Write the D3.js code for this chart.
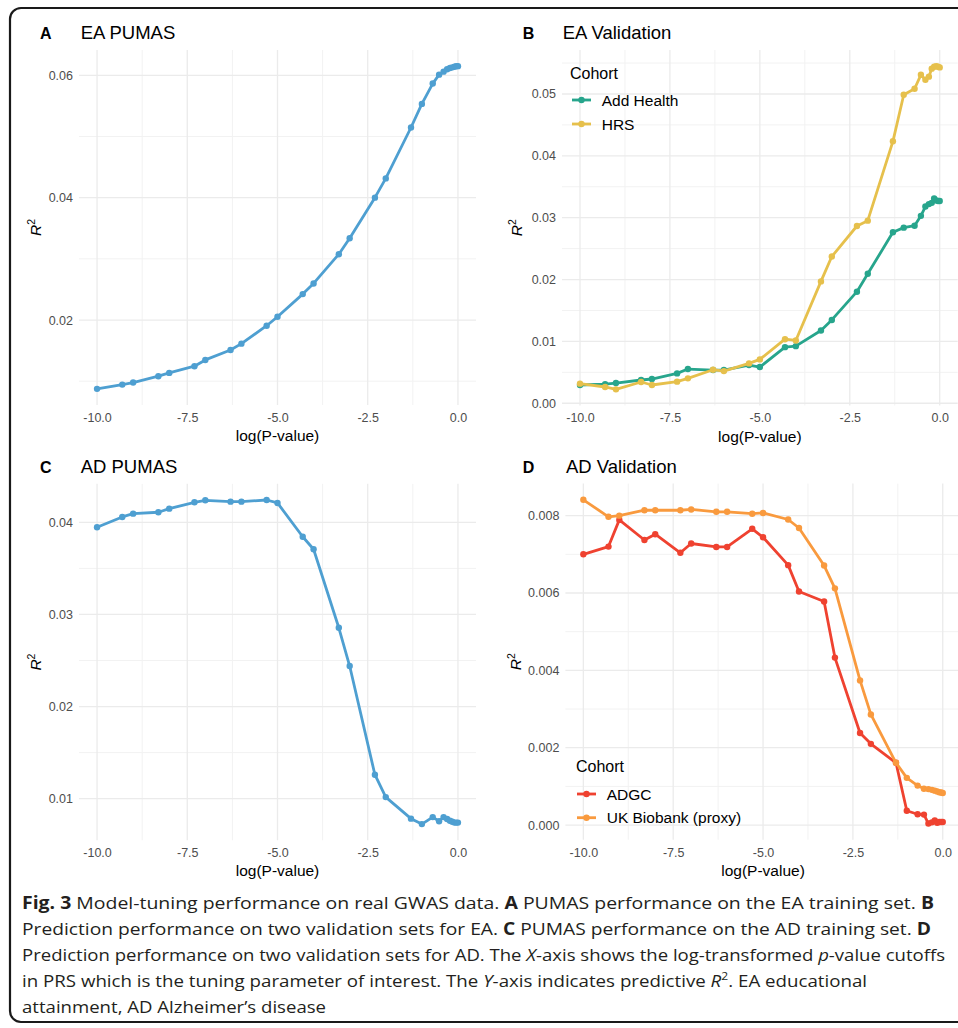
<!DOCTYPE html>
<html>
<head>
<meta charset="utf-8">
<script src="https://cdn.jsdelivr.net/npm/d3@7"></script>
<style>
  body { margin: 0; background: #fff; }
  svg { display: block; }
</style>
</head>
<body>
<svg id="fig" width="958" height="1028"></svg>
<script>
// P-value cutoffs used as the PRS tuning grid (plotted on log10 scale)
const pCutoffs = [1e-10, 5e-10, 1e-9, 5e-9, 1e-8, 5e-8, 1e-7, 5e-7, 1e-6, 5e-6,
                  1e-5, 5e-5, 1e-4, 5e-4, 1e-3, 5e-3, 1e-2, 5e-2, 0.1, 0.2,
                  0.3, 0.4, 0.5, 0.6, 0.7, 0.8, 0.9, 1];

// Predictive R^2 at each cutoff
const eaPumas = [0.00875, 0.00945, 0.00978, 0.01082, 0.01136, 0.01245, 0.01348, 0.01511, 0.01614, 0.01907,
                 0.02054, 0.02424, 0.02598, 0.03076, 0.03337, 0.0400, 0.04315, 0.05147, 0.05533, 0.05865,
                 0.06011, 0.0606, 0.0610, 0.0612, 0.0613, 0.0614, 0.0615, 0.0615];
const eaAddHealth = [0.00295, 0.0031, 0.00327, 0.00376, 0.00392, 0.00483, 0.00553, 0.00537, 0.00537, 0.00617,
                     0.00585, 0.00907, 0.00923, 0.01176, 0.01347, 0.01804, 0.02093, 0.02764, 0.02839, 0.02871,
                     0.0303, 0.0318, 0.0322, 0.0324, 0.0331, 0.0328, 0.0327, 0.0327];
const eaHRS = [0.00317, 0.00263, 0.00225, 0.00344, 0.00295, 0.00349, 0.00403, 0.00542, 0.0052, 0.00644,
               0.00709, 0.01036, 0.01015, 0.0197, 0.02372, 0.02866, 0.02952, 0.04235, 0.04987, 0.05084,
               0.0531, 0.0523, 0.0528, 0.0541, 0.0544, 0.0545, 0.0544, 0.0543];
const adPumas = [0.03946, 0.04058, 0.04094, 0.04109, 0.04148, 0.04217, 0.04239, 0.04224, 0.04224, 0.04242,
                 0.0421, 0.03843, 0.03707, 0.02855, 0.0244, 0.0126, 0.01017, 0.00783, 0.00724, 0.0080,
                 0.00755, 0.0080, 0.0078, 0.0076, 0.0075, 0.0074, 0.0074, 0.0074];
const adADGC = [0.0070, 0.0072, 0.00789, 0.00737, 0.00752, 0.00704, 0.00728, 0.00719, 0.00719, 0.00766,
                0.00744, 0.00672, 0.00604, 0.00578, 0.00433, 0.00238, 0.0021, 0.00161, 0.00037, 0.00028,
                0.00027, 0.00004, 0.00007, 0.00012, 0.00006, 0.00008, 0.00008, 0.00008];
const adUKB = [0.00841, 0.00797, 0.0080, 0.00814, 0.00814, 0.00814, 0.00816, 0.0081, 0.0081, 0.00805,
               0.00807, 0.0079, 0.00768, 0.00671, 0.00612, 0.00374, 0.00286, 0.00161, 0.00122, 0.00102,
               0.00094, 0.00093, 0.00091, 0.00089, 0.00087, 0.00085, 0.00084, 0.00083];

// Axis ticks
const xTicks = [-10, -7.5, -5, -2.5, 0];
const xMinorTicks = [-8.75, -6.25, -3.75, -1.25];
const yTicksEaPumas = [0.02, 0.04, 0.06];
const yMinorEaPumas = [0.01, 0.03, 0.05];
const yTicksEaVal = [0, 0.01, 0.02, 0.03, 0.04, 0.05];
const yMinorEaVal = [0.005, 0.015, 0.025, 0.035, 0.045, 0.055];
const yTicksAdPumas = [0.01, 0.02, 0.03, 0.04];
const yMinorAdPumas = [0.005, 0.015, 0.025, 0.035];
const yTicksAdVal = [0, 0.002, 0.004, 0.006, 0.008];
const yMinorAdVal = [0.001, 0.003, 0.005, 0.007];

const FONT = "'Liberation Sans', Arial, Helvetica, sans-serif";
const svg = d3.select("#fig");
const logP = pCutoffs.map(p => Math.log10(p));

// Figure frame
svg.append("rect")
  .attr("x", 10).attr("y", 8).attr("width", 1100).attr("height", 1014)
  .attr("rx", 11).attr("ry", 11)
  .attr("fill", "none").attr("stroke", "#1a1a1a").attr("stroke-width", 2.2);

const panels = [
  { tag: "A", title: "EA PUMAS", tagX: 40, titleX: 80.7, titleY: 39.3,
    box: { x0: 79, x1: 476, y0: 50, y1: 405 },
    series: [{ name: "EA PUMAS", values: eaPumas, color: "#4e9fd1" }],
    yTicks: yTicksEaPumas, yMinor: yMinorEaPumas, yFmt: d3.format(".2f"), yTitleX: 36, legend: null },
  { tag: "B", title: "EA Validation", tagX: 522.7, titleX: 562.7, titleY: 39.3,
    box: { x0: 562, x1: 957.7, y0: 50, y1: 405.5 },
    series: [{ name: "Add Health", values: eaAddHealth, color: "#27a58c" },
             { name: "HRS", values: eaHRS, color: "#e6c04c" }],
    yTicks: yTicksEaVal, yMinor: yMinorEaVal, yFmt: d3.format(".2f"), yTitleX: 517,
    legend: { titleX: 570, titleY: 73, keyX0: 572, keyX1: 591, labelX: 601.7, rows: [100, 124] } },
  { tag: "C", title: "AD PUMAS", tagX: 40, titleX: 80.7, titleY: 473.3,
    box: { x0: 79, x1: 476, y0: 483.8, y1: 840.3 },
    series: [{ name: "AD PUMAS", values: adPumas, color: "#4e9fd1" }],
    yTicks: yTicksAdPumas, yMinor: yMinorAdPumas, yFmt: d3.format(".2f"), yTitleX: 36, legend: null },
  { tag: "D", title: "AD Validation", tagX: 522.7, titleX: 566, titleY: 473.3,
    box: { x0: 565.4, x1: 960.7, y0: 483.6, y1: 839.7 },
    series: [{ name: "ADGC", values: adADGC, color: "#ef4230" },
             { name: "UK Biobank (proxy)", values: adUKB, color: "#f99a3e" }],
    yTicks: yTicksAdVal, yMinor: yMinorAdVal, yFmt: d3.format(".3f"), yTitleX: 516,
    legend: { titleX: 576, titleY: 766.7, keyX0: 577, keyX1: 596, labelX: 606.7, rows: [794, 817.7] } }
];

panels.forEach(p => {
  const g = svg.append("g");
  const b = p.box;

  const x = d3.scaleLinear().domain([-10.5, 0.5]).range([b.x0, b.x1]);
  const all = p.series.flatMap(s => s.values);
  const [lo, hi] = d3.extent(all);
  const pad = (hi - lo) * 0.05;
  const y = d3.scaleLinear().domain([lo - pad, hi + pad]).range([b.y1, b.y0]);

  // grid: minor then major
  const grid = g.append("g");
  grid.selectAll(".xminor").data(xMinorTicks).join("line")
    .attr("x1", d => x(d)).attr("x2", d => x(d)).attr("y1", b.y0).attr("y2", b.y1)
    .attr("stroke", "#f2f2f2").attr("stroke-width", 1);
  grid.selectAll(".yminor").data(p.yMinor.filter(v => y(v) >= b.y0 && y(v) <= b.y1)).join("line")
    .attr("x1", b.x0).attr("x2", b.x1).attr("y1", d => y(d)).attr("y2", d => y(d))
    .attr("stroke", "#f2f2f2").attr("stroke-width", 1);
  grid.selectAll(".xmajor").data(xTicks).join("line")
    .attr("x1", d => x(d)).attr("x2", d => x(d)).attr("y1", b.y0).attr("y2", b.y1)
    .attr("stroke", "#ebebeb").attr("stroke-width", 1.3);
  grid.selectAll(".ymajor").data(p.yTicks).join("line")
    .attr("x1", b.x0).attr("x2", b.x1).attr("y1", d => y(d)).attr("y2", d => y(d))
    .attr("stroke", "#ebebeb").attr("stroke-width", 1.3);

  // axes (labels only, no domain lines or tick marks)
  const xAxis = g.append("g").attr("transform", `translate(0,${b.y1})`)
    .call(d3.axisBottom(x).tickValues(xTicks).tickFormat(d3.format(".1f")).tickSize(0).tickPadding(8));
  const yAxis = g.append("g").attr("transform", `translate(${b.x0},0)`)
    .call(d3.axisLeft(y).tickValues(p.yTicks).tickFormat(p.yFmt).tickSize(0).tickPadding(6));
  [xAxis, yAxis].forEach(a => {
    a.select(".domain").remove();
    a.selectAll("text").attr("fill", "#4d4d4d").attr("font-family", FONT).attr("font-size", 12.5);
  });
  xAxis.selectAll("text").text(d => d3.format(".1f")(d).replace("−", "-"));
  yAxis.selectAll("text").text(d => p.yFmt(d).replace("−", "-"));

  // axis titles
  g.append("text")
    .attr("x", (b.x0 + b.x1) / 2).attr("y", b.y1 + 36)
    .attr("text-anchor", "middle").attr("font-family", FONT).attr("font-size", 15.5)
    .attr("fill", "#000").text("log(P-value)");
  const yt = g.append("text")
    .attr("transform", `translate(${p.yTitleX + 5},${(b.y0 + b.y1) / 2}) rotate(-90)`)
    .attr("text-anchor", "middle").attr("font-family", FONT).attr("font-size", 15.5).attr("fill", "#000");
  yt.append("tspan").attr("font-style", "italic").text("R");
  yt.append("tspan").attr("font-size", 10.5).attr("dy", -6).text("2");

  // panel tag and title
  g.append("text").attr("x", p.tagX).attr("y", p.titleY)
    .attr("font-family", FONT).attr("font-weight", "bold").attr("font-size", 16).attr("fill", "#000")
    .text(p.tag);
  g.append("text").attr("x", p.titleX).attr("y", p.titleY)
    .attr("font-family", FONT).attr("font-size", 18.5).attr("fill", "#000")
    .text(p.title);

  // series
  const line = d3.line().x(d => x(d[0])).y(d => y(d[1]));
  p.series.forEach(s => {
    const pts = logP.map((lp, i) => [lp, s.values[i]]);
    const sg = g.append("g");
    sg.append("path").datum(pts).attr("d", line)
      .attr("fill", "none").attr("stroke", s.color).attr("stroke-width", 2.8)
      .attr("stroke-linejoin", "round").attr("stroke-linecap", "round");
    sg.selectAll("circle").data(pts).join("circle")
      .attr("cx", d => x(d[0])).attr("cy", d => y(d[1])).attr("r", 3.2).attr("fill", s.color);
  });

  // legend
  if (p.legend) {
    const L = p.legend;
    const lg = g.append("g");
    lg.append("text").attr("x", L.titleX).attr("y", L.titleY + 5.7)
      .attr("font-family", FONT).attr("font-size", 16).attr("fill", "#000").text("Cohort");
    p.series.forEach((s, i) => {
      const cy = L.rows[i];
      lg.append("line").attr("x1", L.keyX0).attr("x2", L.keyX1).attr("y1", cy).attr("y2", cy)
        .attr("stroke", s.color).attr("stroke-width", 2.8);
      lg.append("circle").attr("cx", (L.keyX0 + L.keyX1) / 2).attr("cy", cy).attr("r", 3.2).attr("fill", s.color);
      lg.append("text").attr("x", L.labelX).attr("y", cy + 5.6)
        .attr("font-family", FONT).attr("font-size", 15.5).attr("fill", "#000").text(s.name);
    });
  }
});

// Figure caption
const CAP_FONT = "'Open Sans', 'Noto Sans', sans-serif";
const captionLines = [
  { y: 909, end: 934, parts: [["Fig. 3", "b"], [" Model-tuning performance on real GWAS data. "], ["A", "b"],
      [" PUMAS performance on the EA training set. "], ["B", "b"]] },
  { y: 935, end: 931, parts: [["Prediction performance on two validation sets for EA. "], ["C", "b"],
      [" PUMAS performance on the AD training set. "], ["D", "b"]] },
  { y: 961, end: 945, parts: [["Prediction performance on two validation sets for AD. The "], ["X", "i"],
      ["-axis shows the log-transformed "], ["p", "i"], ["-value cutoffs"]] },
  { y: 987, end: 867, parts: [["in PRS which is the tuning parameter of interest. The "], ["Y", "i"],
      ["-axis indicates predictive "], ["R", "i"], ["2", "sup"], [". EA educational"]] },
  { y: 1013, end: 326, parts: [["attainment, AD Alzheimer\u2019s disease"]] }
];
const capX = 22;
captionLines.forEach(l => {
  const t = svg.append("text").attr("x", capX).attr("y", l.y)
    .attr("font-family", CAP_FONT).attr("font-size", 17).attr("fill", "#231f20");
  let shifted = false;
  l.parts.forEach(([txt, st]) => {
    const ts = t.append("tspan").text(txt);
    if (st === "b") ts.attr("font-weight", "bold");
    if (st === "i") ts.attr("font-style", "italic");
    if (st === "sup") { ts.attr("font-size", 11).attr("dy", -7); shifted = true; }
    else if (shifted) { ts.attr("dy", 7); shifted = false; }
  });
  t.attr("textLength", l.end - capX).attr("lengthAdjust", "spacingAndGlyphs");
});
</script>
</body>
</html>
